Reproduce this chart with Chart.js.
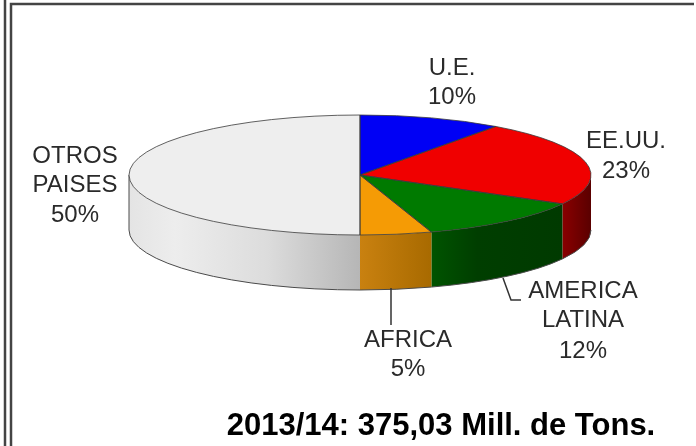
<!DOCTYPE html>
<html>
<head>
<meta charset="utf-8">
<title>Produccion 2013/14</title>
<script src="https://cdn.jsdelivr.net/npm/chart.js@4"></script>
<style>
    body { margin: 0; background: #fff; }
    canvas { display: block; }
</style>
</head>
<body>
<canvas id="graph" width="696" height="446"></canvas>
<script>
const categories = ['U.E.', 'EE.UU.', 'AMERICA LATINA', 'AFRICA', 'OTROS PAISES'];
const shares = [10, 23, 12, 5, 50];
const topColors = ['#0000f5', '#f00000', '#007a00', '#f59b05', '#eeeeee'];
// izquierda -> derecha del lateral
const wallColors = [
    [['#00008a', 0], ['#00008a', 1]],
    [['#8a0000', 0], ['#5a0000', 1]],
    [['#005400', 0], ['#003e00', 0.35], ['#003a00', 1]],
    [['#c98110', 0], ['#a86a00', 1]],
    [['#e4e4e4', 0], ['#ededed', 0.2], ['#dcdcdc', 0.6], ['#b6b6b6', 1]]
];
const chartTitle = '2013/14: 375,03 Mill. de Tons.';

// etiquetas: lineas de texto, centro x, linea base
const labels = [
    { lines: ['U.E.', '10%'], x: 452, y: [75, 104] },
    { lines: ['EE.UU.', '23%'], x: 626, y: [148, 178] },
    { lines: ['AMERICA', 'LATINA', '12%'], x: 583, y: [298, 327, 358] },
    { lines: ['AFRICA', '5%'], x: 408, y: [347, 376] },
    { lines: ['OTROS', 'PAISES', '50%'], x: 75, y: [163, 192, 222] }
];

const pieRadius = 231;
const tilt = 60 / 231;
const depth = 55;

function sliceOutline(ctx, arc) {
    ctx.beginPath();
    ctx.moveTo(arc.x, arc.y);
    ctx.ellipse(arc.x, arc.y, arc.outerRadius, arc.outerRadius * tilt, 0, arc.startAngle, arc.endAngle);
    ctx.closePath();
    ctx.stroke();
}

const pie3d = {
    id: 'pie3d',
    beforeDatasetsDraw(chart) {
        const ctx = chart.ctx;
        const arcs = chart.getDatasetMeta(0).data;

        // lateral: solo la mitad delantera
        arcs.forEach((arc, i) => {
            const a0 = Math.max(arc.startAngle, 0);
            const a1 = Math.min(arc.endAngle, Math.PI);
            if (a1 <= a0) return;
            const rx = arc.outerRadius;
            const ry = rx * tilt;
            const x0 = arc.x + rx * Math.cos(a1);
            const x1 = arc.x + rx * Math.cos(a0);
            const grad = ctx.createLinearGradient(x0, 0, x1, 0);
            wallColors[i].forEach(s => grad.addColorStop(s[1], s[0]));
            ctx.fillStyle = grad;
            ctx.beginPath();
            ctx.ellipse(arc.x, arc.y, rx, ry, 0, a0, a1);
            ctx.ellipse(arc.x, arc.y + depth, rx, ry, 0, a1, a0, true);
            ctx.closePath();
            ctx.fill();

            ctx.strokeStyle = '#4a4a4a';
            ctx.lineWidth = 1;
            ctx.beginPath();
            ctx.ellipse(arc.x, arc.y + depth, rx, ry, 0, a1, a0, true);
            if (a1 === Math.PI) {
                ctx.moveTo(arc.x - rx, arc.y);
                ctx.lineTo(arc.x - rx, arc.y + depth);
            }
            ctx.stroke();
        });

        ctx.save();
        const cy = arcs[0].y;
        ctx.translate(0, cy);
        ctx.scale(1, tilt);
        ctx.translate(0, -cy);
    },
    afterDatasetsDraw(chart) {
        const ctx = chart.ctx;
        ctx.restore();

        ctx.strokeStyle = '#3a3a3a';
        ctx.lineWidth = 0.8;
        chart.getDatasetMeta(0).data.forEach(arc => sliceOutline(ctx, arc));

        // lineas guia
        ctx.strokeStyle = '#333';
        ctx.lineWidth = 1.5;
        ctx.beginPath();
        ctx.moveTo(391, 288);
        ctx.lineTo(391, 325);
        ctx.moveTo(503, 278);
        ctx.lineTo(511, 300);
        ctx.lineTo(521, 300);
        ctx.stroke();

        // textos
        ctx.textAlign = 'center';
        ctx.textBaseline = 'alphabetic';
        ctx.fillStyle = '#2a2a2a';
        ctx.font = '24px "Liberation Sans"';
        labels.forEach(l => l.lines.forEach((t, i) => ctx.fillText(t, l.x, l.y[i])));
        ctx.fillStyle = '#000';
        ctx.font = 'bold 31px "Liberation Sans"';
        ctx.fillText(chartTitle, 441, 435);

        // marco doble
        ctx.strokeStyle = '#444';
        ctx.lineWidth = 2.5;
        ctx.beginPath();
        ctx.moveTo(5, 0);
        ctx.lineTo(5, 446);
        ctx.moveTo(11, 446);
        ctx.lineTo(11, 4);
        ctx.lineTo(694, 4);
        ctx.stroke();
    }
};

new Chart(document.getElementById('graph'), {
    type: 'pie',
    data: {
        labels: categories,
        datasets: [{
            data: shares,
            backgroundColor: topColors,
            borderWidth: 0,
            radius: pieRadius,
            clip: false
        }]
    },
    options: {
        responsive: false,
        animation: false,
        layout: { padding: { left: 24, bottom: 96 } },
        plugins: {
            legend: { display: false },
            tooltip: { enabled: false }
        }
    },
    plugins: [pie3d]
});
</script>
</body>
</html>
